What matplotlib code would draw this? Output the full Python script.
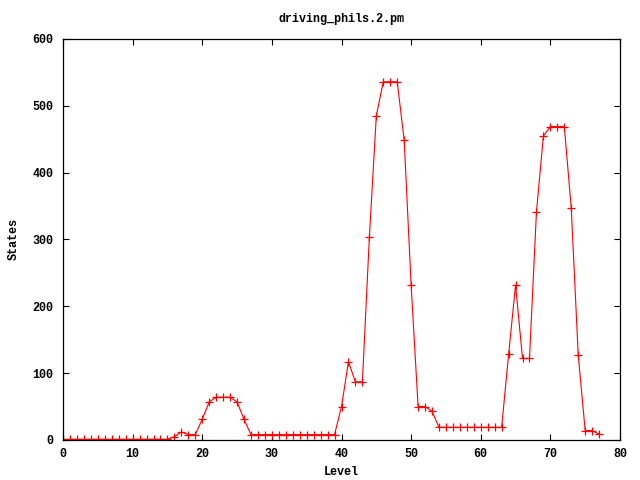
import matplotlib
matplotlib.use("Agg")
import matplotlib.pyplot as plt

levels = list(range(78))
states = (
    [1] * 16
    + [5, 12, 8, 8, 31, 57, 64, 64, 64, 57, 31]
    + [8] * 13
    + [50, 117, 87, 87, 303, 485, 536, 536, 536, 449, 232, 50, 50, 43]
    + [19] * 10
    + [128, 232, 122, 122, 341, 455, 469, 469, 469, 347, 127, 14, 14, 9]
)

title = "driving_phils.2.pm"
xlabel = "Level"
ylabel = "States"
xticks = list(range(0, 81, 10))
yticks = list(range(0, 601, 100))

font = {"family": "Liberation Mono", "weight": "bold", "size": 8.5}

fig = plt.figure(figsize=(6.4, 4.8), dpi=100)
ax = fig.add_axes([63 / 640, 40 / 480, 557 / 640, 401 / 480])
ax.plot(levels, states, color="#ff0000", linewidth=0.8,
        marker="+", markersize=5.5, markeredgewidth=0.9)

ax.set_xlim(0, 80)
ax.set_ylim(0, 600)
ax.set_xticks(xticks)
ax.set_yticks(yticks)
ax.tick_params(direction="in", length=4, width=0.8, top=True, right=True)
ax.tick_params(axis="x", pad=6)
ax.tick_params(axis="y", pad=7)
for lbl in ax.get_xticklabels() + ax.get_yticklabels():
    lbl.set_fontproperties(font)
for spine in ax.spines.values():
    spine.set_linewidth(0.9)

ax.set_title(title, fontdict=font, pad=12)
ax.set_xlabel(xlabel, fontdict=font, labelpad=4)
ax.set_ylabel(ylabel, fontdict=font, labelpad=9)

fig.savefig("out.png", dpi=100)
